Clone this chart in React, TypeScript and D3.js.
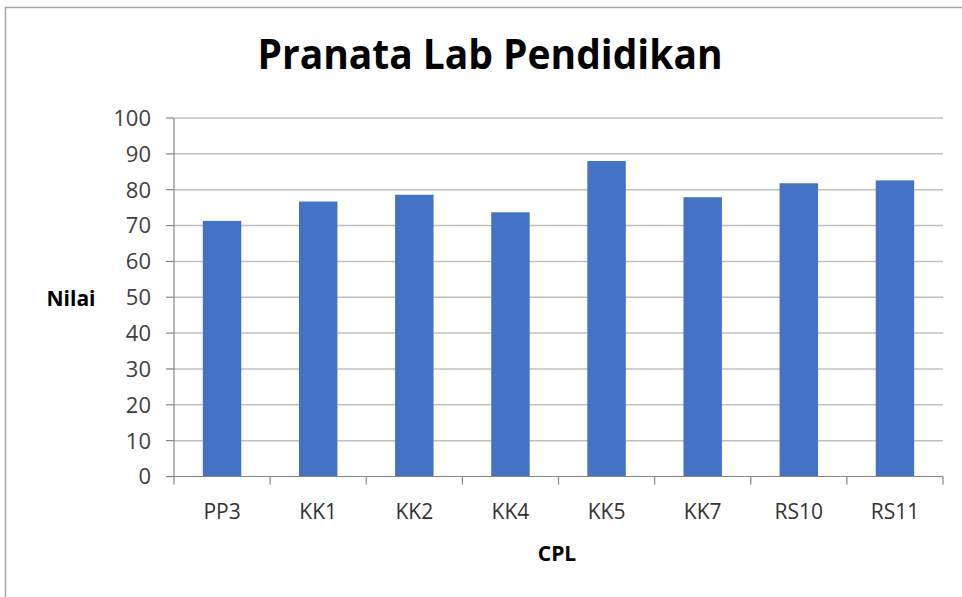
import React from "react";
import * as d3 from "d3";

const categories = ["PP3", "KK1", "KK2", "KK4", "KK5", "KK7", "RS10", "RS11"];
const values = [71.3, 76.7, 78.6, 73.7, 88.0, 77.9, 81.8, 82.6];
const yTicks = [0, 10, 20, 30, 40, 50, 60, 70, 80, 90, 100];
const title = "Pranata Lab Pendidikan";
const xTitle = "CPL";
const yTitle = "Nilai";

export default function App() {
  const W = 962, H = 597;
  const left = 174, right = 943, top = 118, bottom = 476.5;
  const x = d3.scaleBand<string>().domain(categories).range([left, right]).paddingInner(0.6).paddingOuter(0.3);
  const xb = d3.scaleBand<string>().domain(categories).range([left, right]);
  const y = d3.scaleLinear().domain([0, 100]).range([bottom, top]);
  const font = "'Open Sans', sans-serif";
  return (
    <svg width={W} height={H} style={{ position: "absolute", left: 0, top: 0, background: "#fff" }} fontFamily={font}>
      <rect x={5.5} y={7.5} width={W + 10} height={H + 10} fill="#fff" stroke="#a6a6a6" strokeWidth={1.5} />
      <text x={490} y={69} textAnchor="middle" fontSize={42} fontWeight="bold" fill="#000" textLength={465} lengthAdjust="spacingAndGlyphs">{title}</text>
      {yTicks.map(t => (
        <g key={t}>
          {t > 0 && <line x1={left} x2={right} y1={y(t)} y2={y(t)} stroke="#c0c0c0" strokeWidth={1.5} />}
          <line x1={166} x2={left} y1={y(t)} y2={y(t)} stroke="#868686" strokeWidth={1.2} />
          <text x={151} y={y(t)} dy="0.36em" textAnchor="end" fontSize={22} fill="#404040">{t}</text>
        </g>
      ))}
      {categories.map((c, i) => (
        <rect key={c} x={x(c)} y={y(values[i])} width={x.bandwidth()} height={bottom - y(values[i])} fill="#4472C4" />
      ))}
      <line x1={left} x2={left} y1={top} y2={bottom + 8} stroke="#868686" strokeWidth={1.2} />
      <line x1={left} x2={right} y1={bottom} y2={bottom} stroke="#868686" strokeWidth={1.2} />
      {categories.map(c => (
        <line key={"t" + c} x1={(xb(c) as number) + xb.bandwidth()} x2={(xb(c) as number) + xb.bandwidth()} y1={bottom} y2={bottom + 8} stroke="#868686" strokeWidth={1.2} />
      ))}
      {categories.map(c => (
        <text key={"l" + c} x={(xb(c) as number) + xb.bandwidth() / 2} y={519} textAnchor="middle" fontSize={21} fill="#333">{c}</text>
      ))}
      <text x={557} y={561} textAnchor="middle" fontSize={21} fontWeight="bold" fill="#000">{xTitle}</text>
      <text x={71} y={306} textAnchor="middle" fontSize={21} fontWeight="bold" fill="#000">{yTitle}</text>
    </svg>
  );
}
